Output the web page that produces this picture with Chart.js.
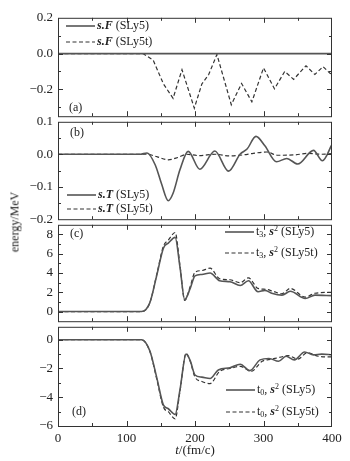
<!DOCTYPE html>
<html>
<head>
<meta charset="utf-8">
<script src="https://cdn.jsdelivr.net/npm/chart.js@4.4.1/dist/chart.umd.min.js"></script>
<style>
  body { margin: 0; background: #fff; }
  #wrap { position: relative; width: 350px; height: 461px; font-family: "Liberation Serif", serif; color: #222; }
  canvas { position: absolute; left: 0; }
  #ylab { position: absolute; left: 15px; top: 222px; transform: translate(-50%, -50%) rotate(-90deg); font-size: 12px; white-space: nowrap; }
  #xlab { position: absolute; left: 195px; top: 450px; transform: translate(-50%, -50%); font-size: 13px; white-space: nowrap; }
</style>
</head>
<body>
<div id="wrap">
  <canvas id="pa"></canvas>
  <canvas id="pb"></canvas>
  <canvas id="pc"></canvas>
  <canvas id="pd"></canvas>
  <div id="ylab">energy/MeV</div>
  <div id="xlab"><i>t</i>/(fm/c)</div>
</div>
<script>
// x axis
const xTicks = [0, 100, 200, 300, 400];

// (a) s.F
const tF = [0, 400];
const vF = [0, 0];
const tFt = [0, 124, 139, 154, 168, 181, 199, 210, 220, 232, 253, 268, 283, 300, 316, 331, 344, 362, 375, 387, 397, 400];
const vFt = [0, 0, -0.037, -0.17, -0.25, -0.09, -0.305, -0.17, -0.117, -0.005, -0.286, -0.167, -0.27, -0.08, -0.197, -0.1, -0.144, -0.068, -0.117, -0.073, -0.11, -0.115];
const ticksA = [0.2, 0, -0.2];
const minorA = [0.1, -0.1, -0.3];

// (b) s.T
const tT = [0, 120, 130, 142, 151, 161, 168, 178, 190, 207, 229, 249, 266, 276, 289, 302, 319, 334, 350, 373, 386, 400];
const vT = [0, 0, 0.004, -0.033, -0.09, -0.143, -0.12, -0.048, 0.009, -0.046, 0.01, -0.052, 0.001, 0.016, 0.055, 0.026, -0.023, -0.013, -0.03, 0.012, -0.02, 0.03];
const tTt = [0, 130, 145, 161, 175, 188, 205, 230, 250, 270, 285, 305, 320, 345, 365, 385, 400];
const vTt = [0, 0, -0.008, -0.017, -0.01, 0, -0.004, 0, -0.005, -0.002, 0.003, 0.007, -0.003, -0.002, 0.003, 0, 0.002];
const ticksB = [0.1, 0, -0.1, -0.2];
const minorB = [0.05, -0.05, -0.15];

// (c) t3, s^2
const tC = [0, 122, 134, 144, 154, 161, 171, 178, 185, 193, 200, 210, 222, 236, 251, 266, 278, 292, 302, 312, 327, 339, 361, 375, 400];
const vC = [0, 0, 0.9, 3.7, 6.6, 7.1, 7.7, 4.65, 1.24, 2.4, 3.7, 3.85, 4.0, 3.2, 3.1, 2.7, 3.2, 2.05, 2.2, 1.9, 1.7, 2.1, 1.35, 1.7, 1.65];
const tCt = [0, 122, 134, 144, 154, 161, 171, 178, 185, 193, 200, 210, 222, 236, 251, 266, 278, 292, 304, 314, 327, 339, 361, 375, 400];
const vCt = [0, 0, 0.9, 3.8, 6.8, 7.4, 8.2, 4.8, 1.15, 2.6, 4.07, 4.25, 4.5, 3.4, 3.3, 3.0, 3.5, 2.4, 2.3, 2.1, 1.85, 2.4, 1.5, 1.9, 2.0];
const ticksC = [8, 6, 4, 2, 0];
const minorC = [9, 7, 5, 3, 1, -1];

// (d) t0, s^2
const tD = [0, 122, 134, 144, 154, 161, 171, 178, 187, 193, 200, 210, 222, 234, 251, 266, 280, 295, 308, 322, 333, 345, 360, 373, 385, 400];
const vD = [0, 0, -0.77, -2.6, -4.55, -4.8, -5.2, -3.5, -1.0, -1.45, -2.45, -2.6, -2.7, -2.1, -1.95, -1.7, -2.15, -1.4, -1.3, -1.5, -1.15, -1.4, -0.85, -1.05, -1.0, -1.05];
const tDt = [0, 122, 134, 144, 154, 161, 171, 178, 187, 193, 200, 210, 222, 236, 251, 266, 282, 298, 312, 326, 336, 350, 364, 380, 400];
const vDt = [0, 0, -0.8, -2.7, -4.7, -5.0, -5.5, -3.6, -0.95, -1.5, -2.6, -2.9, -3.05, -2.2, -2.0, -1.85, -2.2, -1.5, -1.35, -1.2, -1.1, -1.35, -0.9, -1.15, -1.2];
const ticksD = [0, -2, -4, -6];
const minorD = [-1, -3, -5];

Chart.defaults.font.family = '"Liberation Serif", serif';
Chart.defaults.font.size = 13;
Chart.defaults.color = '#222';

const SERIF = '"Liberation Serif", serif';
const pts = (t, v) => t.map((x, i) => ({ x: x, y: v[i] }));
const minus = s => s.replace('-', '\u2212');

function solid(t, v, smooth) {
  return { data: pts(t, v), borderColor: '#555', borderWidth: 1.6, pointRadius: 0, fill: false,
           tension: smooth ? 0.4 : 0, cubicInterpolationMode: smooth ? 'monotone' : 'default' };
}
function dashed(t, v, smooth) {
  return { data: pts(t, v), borderColor: '#333', borderWidth: 1.2, borderDash: [4, 2.5], pointRadius: 0, fill: false,
           tension: smooth ? 0.4 : 0, cubicInterpolationMode: smooth ? 'monotone' : 'default' };
}

// rich legend text pieces
const lblF = n => [['b', 's.F'], ['n', ' (' + n + ')']];
const lblT = n => [['b', 's.T'], ['n', ' (' + n + ')']];
const lblS = (k, n) => [['n', 't'], ['sub', k], ['n', ', '], ['b', 's'], ['sup', '2'], ['n', ' (' + n + ')']];

const deco = {
  id: 'deco',
  afterDraw(chart, args, o) {
    const ctx = chart.ctx;
    const { left, right, top, bottom } = chart.chartArea;
    const xs = chart.scales.x, ys = chart.scales.y;
    const off = o.off;
    ctx.save();
    ctx.strokeStyle = '#333';
    ctx.lineWidth = 1;
    ctx.setLineDash([]);
    ctx.strokeRect(left + 0.5, top + 0.5, right - left - 1, bottom - top);
    ctx.beginPath();
    for (let v = 50; v < 400; v += 50) {
      const px = Math.round(xs.getPixelForValue(v)) + 0.5;
      const len = v % 100 === 0 ? 5 : 3;
      ctx.moveTo(px, top); ctx.lineTo(px, top + len);
      ctx.moveTo(px, bottom); ctx.lineTo(px, bottom - len);
    }
    const yt = (vals, len) => vals.forEach(v => {
      if (v <= ys.min || v >= ys.max) return;
      const py = Math.round(ys.getPixelForValue(v)) + 0.5;
      ctx.moveTo(left, py); ctx.lineTo(left + len, py);
      ctx.moveTo(right, py); ctx.lineTo(right - len, py);
    });
    yt(o.major, 5);
    yt(o.minor, 3);
    ctx.stroke();

    ctx.fillStyle = '#222';
    ctx.textBaseline = 'middle';
    ctx.font = '12px ' + SERIF;
    ctx.fillText(o.tag[0], o.tag[1], o.tag[2] - off);

    o.items.forEach(it => {
      const ds = chart.data.datasets[it.ds];
      const y = it.y - off;
      ctx.strokeStyle = ds.borderColor;
      ctx.lineWidth = ds.borderWidth;
      ctx.setLineDash(ds.borderDash || []);
      ctx.beginPath();
      ctx.moveTo(it.x, y); ctx.lineTo(it.x + 29, y);
      ctx.stroke();
      let x = it.x + 31;
      it.text.forEach(([k, s]) => {
        let dy = 0;
        if (k === 'b') ctx.font = 'bold italic 12px ' + SERIF;
        else if (k === 'sub') { ctx.font = '8px ' + SERIF; dy = 3; }
        else if (k === 'sup') { ctx.font = '8px ' + SERIF; dy = -3; }
        else ctx.font = '12px ' + SERIF;
        ctx.fillText(s, x, y + dy);
        x += ctx.measureText(s).width;
      });
    });
    ctx.restore();
  }
};

// p.top / p.bottom: page y of the plot frame
function panel(id, p) {
  const cv = document.getElementById(id);
  const off = p.top - 10;
  const h = p.showX ? 461 - off : p.bottom - p.top + 20;
  cv.width = 350; cv.height = h;
  cv.style.top = off + 'px';
  return new Chart(cv, {
    type: 'line',
    data: { datasets: p.datasets },
    options: {
      responsive: false,
      animation: false,
      devicePixelRatio: 1,
      layout: { padding: { top: 10, bottom: p.showX ? 0 : 10, left: 0, right: 18 } },
      plugins: {
        legend: { display: false },
        tooltip: { enabled: false },
        deco: { major: p.ticks, minor: p.minor, tag: p.tag, items: p.items, off: off }
      },
      scales: {
        x: {
          type: 'linear', min: 0, max: 400, display: p.showX,
          afterBuildTicks: s => { s.ticks = xTicks.map(v => ({ value: v })); },
          afterFit: s => { if (p.showX) s.height = 35; },
          ticks: { padding: 5, maxRotation: 0, autoSkip: false },
          grid: { display: false, drawTicks: false },
          border: { display: false }
        },
        y: {
          type: 'linear', min: p.min, max: p.max,
          afterBuildTicks: s => { s.ticks = p.ticks.map(v => ({ value: v })); },
          afterFit: s => { s.width = 58; },
          ticks: { padding: 5, autoSkip: false, callback: v => minus(v.toFixed(p.dec)) },
          grid: { display: false, drawTicks: false },
          border: { display: false }
        }
      }
    },
    plugins: [deco]
  });
}

panel('pa', {
  top: 15, bottom: 119, min: -0.35, max: 0.2, ticks: ticksA, minor: minorA, dec: 1, showX: false,
  tag: ['(a)', 69, 108],
  datasets: [solid(tF, vF, false), dashed(tFt, vFt, false)],
  items: [{ ds: 0, x: 66, y: 26, text: lblF('SLy5') }, { ds: 1, x: 66, y: 42, text: lblF('SLy5t') }]
});
panel('pb', {
  top: 119, bottom: 222, min: -0.2, max: 0.1, ticks: ticksB, minor: minorB, dec: 1, showX: false,
  tag: ['(b)', 70, 133],
  datasets: [solid(tT, vT, true), dashed(tTt, vTt, true)],
  items: [{ ds: 0, x: 67, y: 195, text: lblT('SLy5') }, { ds: 1, x: 67, y: 209, text: lblT('SLy5t') }]
});
panel('pc', {
  top: 222, bottom: 324, min: -1, max: 9, ticks: ticksC, minor: minorC, dec: 0, showX: false,
  tag: ['(c)', 70, 234],
  datasets: [solid(tC, vC, true), dashed(tCt, vCt, true)],
  items: [{ ds: 0, x: 225, y: 232, text: lblS('3', 'SLy5') }, { ds: 1, x: 225, y: 253, text: lblS('3', 'SLy5t') }]
});
panel('pd', {
  top: 324, bottom: 426, min: -6, max: 0.9, ticks: ticksD, minor: minorD, dec: 0, showX: true,
  tag: ['(d)', 72, 412],
  datasets: [solid(tD, vD, true), dashed(tDt, vDt, true)],
  items: [{ ds: 0, x: 226, y: 390, text: lblS('0', 'SLy5') }, { ds: 1, x: 226, y: 412, text: lblS('0', 'SLy5t') }]
});
</script>
</body>
</html>
